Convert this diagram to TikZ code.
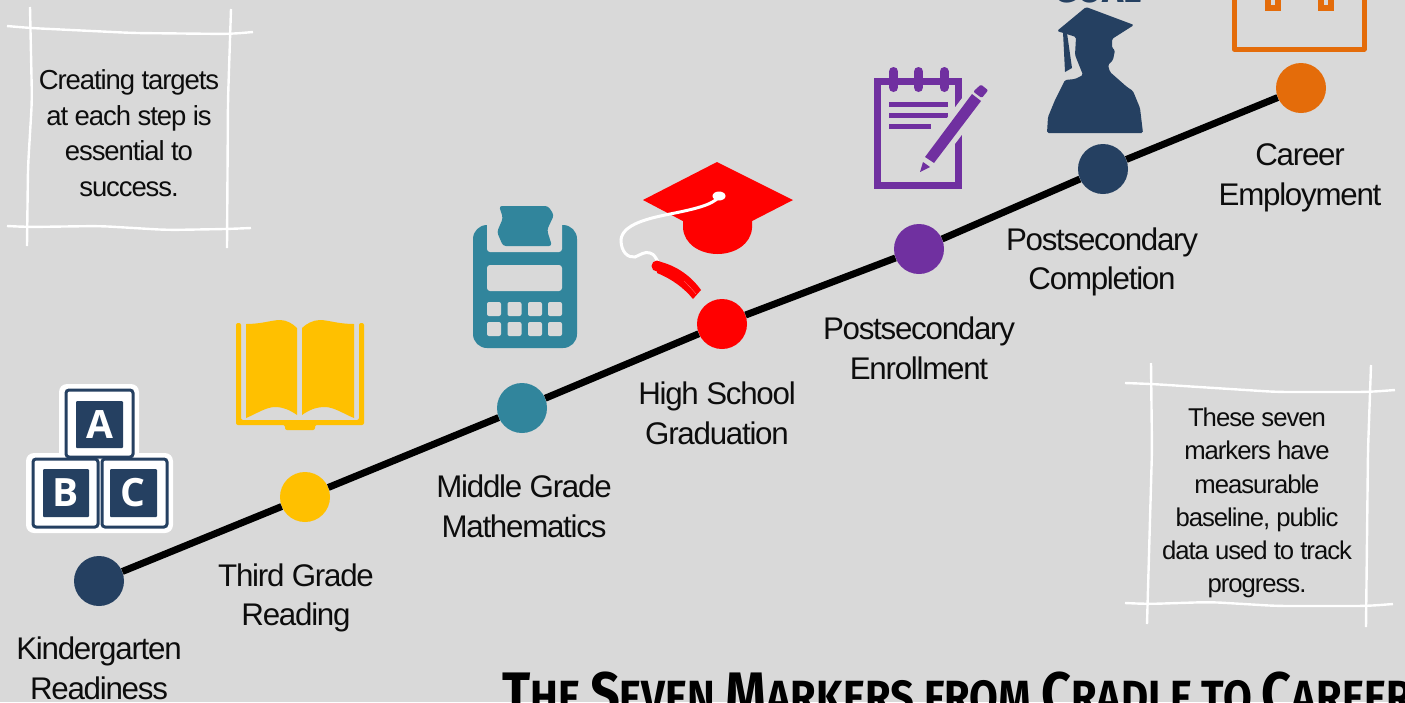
\documentclass[tikz,border=0pt]{standalone}
\usepackage{fontspec}
\setmainfont[LetterSpace=-4]{Liberation Sans}
\newfontfamily\blockfont{Open Sans}
\newfontfamily\goalfont{Fira Sans}
\newfontfamily\titlefont[FakeStretch=0.87]{Fira Sans}
\usetikzlibrary{positioning}
\definecolor{paper}{HTML}{D9D9D9}
\definecolor{navy}{HTML}{254061}
\definecolor{gold}{HTML}{FFC000}
\definecolor{teal}{HTML}{31859C}
\definecolor{violet}{HTML}{7030A0}
\definecolor{ember}{HTML}{E46C0A}
\definecolor{ink}{HTML}{0D0D0D}
\tikzstyle{marker} = [circle, minimum size=50pt, inner sep=0pt]
\tikzstyle{arrow} = [line width=7pt, black]
\tikzstyle{milestone} = [align=center, inner sep=0pt, text=ink, font=\fontsize{31.3}{39.7}\selectfont]
\tikzstyle{note} = [align=center, inner sep=0pt, text=ink]
\tikzstyle{sketch} = [white, line width=2.4pt, rounded corners=12pt]
\tikzstyle{letter} = [text=white, inner sep=0pt, font=\blockfont\bfseries\fontsize{39}{39}\selectfont]
\newcommand{\capword}[2]{{\fontsize{60}{60}\selectfont #1}\MakeUppercase{#2}}
\begin{document}
\begin{tikzpicture}[x=1pt, y=-1pt]
	\useasboundingbox (0,0) rectangle (1405,702);
	\clip (0,0) rectangle (1405,702);
	\fill [paper] (0,0) rectangle (1405,702);
	% timeline
	\node (Kindergarten) [marker, fill=navy] at (99,581) {};
	\node (ThirdGrade) [marker, fill=gold] at (305,497) {};
	\node (MiddleGrade) [marker, fill=teal] at (522,408) {};
	\node (HighSchool) [marker, fill=red] at (722,324) {};
	\node (Enrollment) [marker, fill=violet] at (919,249) {};
	\node (Completion) [marker, fill=navy] at (1103,169) {};
	\node (Career) [marker, fill=ember] at (1301,88) {};
	\draw [arrow] (Kindergarten) -- (ThirdGrade);
	\draw [arrow] (ThirdGrade) -- (MiddleGrade);
	\draw [arrow] (MiddleGrade) -- (HighSchool);
	\draw [arrow] (HighSchool) -- (Enrollment);
	\draw [arrow] (Enrollment) -- (Completion);
	\draw [arrow] (Completion) -- (Career);
	\node (KindergartenText) [milestone] at (99,668.5) {Kindergarten\\Readiness};
	\node (ThirdGradeText) [milestone] at (296,598) {Third Grade\\Reading};
	\node (MiddleGradeText) [milestone] at (524,506.5) {Middle Grade\\Mathematics};
	\node (HighSchoolText) [milestone] at (717,413.5) {High School\\Graduation};
	\node (EnrollmentText) [milestone] at (919,348.5) {Postsecondary\\Enrollment};
	\node (CompletionText) [milestone] at (1102,262) {Postsecondary\\Completion};
	\node (CareerText) [milestone] at (1300,178) {Career\\Employment};
	% hand drawn frames
	\draw [sketch] (7,26) -- (30,28) -- (133,33) -- (230,34) -- (253,32);
	\draw [sketch] (7,226) -- (28,227) -- (100,226) -- (167,230) -- (227,229) -- (251,228);
	\draw [sketch] (30,7) -- (32,100) -- (28,167) -- (27,246);
	\draw [sketch] (231,9) -- (228,100) -- (227,248);
	\draw [sketch] (1125,383) -- (1152,384) -- (1277,392) -- (1368,392) -- (1395,390);
	\draw [sketch] (1125,603) -- (1148,604) -- (1210,602) -- (1277,606) -- (1367,606) -- (1393,604);
	\draw [sketch] (1151,363) -- (1152,450) -- (1147,624);
	\draw [sketch] (1371,365) -- (1368,450) -- (1366,627);
	\node (TargetsNote) [note, font=\fontsize{27.5}{35.5}\selectfont] at (129,133) {Creating targets\\at each step is\\essential to\\success.};
	\node (MarkersNote) [note, font=\fontsize{25.7}{33.3}\selectfont] at (1257,503) {These seven\\markers have\\measurable\\baseline, public\\data used to track\\progress.};
	% blocks
	\fill [white, rounded corners=8pt] (59,384) rectangle (139,460);
	\fill [white, rounded corners=8pt] (26,453) rectangle (173,533);
	\draw [navy, line width=3pt, rounded corners=3pt] (66,390) rectangle (133,457);
	\draw [navy, line width=3pt, rounded corners=3pt] (33,459) rectangle (98,527);
	\draw [navy, line width=3pt, rounded corners=3pt] (102,459) rectangle (167,527);
	\fill [navy, rounded corners=1pt] (76,401) rectangle (123,448);
	\fill [navy, rounded corners=1pt] (43,469) rectangle (89,517);
	\fill [navy, rounded corners=1pt] (110,469) rectangle (157,517);
	\node (BlockA) [letter] at (99.5,425) {A};
	\node (BlockB) [letter] at (66,493) {B};
	\node (BlockC) [letter] at (133,493) {C};
	% book
	\fill [gold, rounded corners=2pt] (236,323) -- (241,323) -- (241,420) -- (359,420) -- (359,323) -- (364,323) -- (364,425) -- (315,425) -- (315,430) -- (285,430) -- (285,425) -- (236,425) -- cycle;
	\fill [gold] (246,324) .. controls (262,324) and (272,320) .. (280,320) .. controls (287,320) and (293,324) .. (297,328) -- (297,415) .. controls (290,410) and (283,407) .. (275,407) .. controls (266,407) and (256,414) .. (246,418) -- cycle;
	\fill [gold] (354,324) .. controls (338,324) and (328,320) .. (320,320) .. controls (313,320) and (306,324) .. (302,328) -- (302,415) .. controls (309,410) and (316,407) .. (325,407) .. controls (334,407) and (344,414) .. (354,418) -- cycle;
	% calculator
	\fill [teal, rounded corners=14pt] (473,225) rectangle (577,348);
	\fill [paper, rounded corners=3pt] (487,215) rectangle (562,252);
	\fill [teal, rounded corners=3pt] (499,206) -- (548,206) -- (554,215) -- (547,230) -- (552,246) -- (503,246) -- (497,232) -- (503,218) -- cycle;
	\fill [paper, rounded corners=3pt] (487,265) rectangle (562,291);
	\foreach \keyx in {487,507.5,528,548}
		\foreach \keyy in {302,322}
			\fill [paper, rounded corners=2pt] (\keyx,\keyy) rectangle +(14,14);
	% cap
	\fill [red] (717,162) -- (793,200) -- (717,239) -- (643,200) -- cycle;
	\fill [red] (683,221) -- (683,228) .. controls (684,244) and (700,254) .. (717.5,254) .. controls (735,254) and (751,244) .. (752,228) -- (752,221) -- cycle;
	\draw [white, line width=3pt] (719,197) .. controls (712,205) and (695,209) .. (670,214) .. controls (650,218) and (622,224) .. (621,240) .. controls (621,252) and (628,258) .. (635,257) .. controls (640,255) and (645,251) .. (650,253) .. controls (654,254) and (656,258) .. (658,262);
	\fill [white] (719,196) ellipse [x radius=6.5pt, y radius=4.5pt];
	\fill [red] (657,266) circle (5.5pt);
	\fill [red] (657,261) .. controls (676,265) and (691,276) .. (701,290) -- (693,299) .. controls (684,288) and (672,279) .. (657,273) -- cycle;
	\draw [red!50!white, line width=0.3pt] (684,281) .. controls (688,285) and (692,289) .. (696,294);
	% notepad
	\draw [violet, line width=6.5pt] (877.5,81.5) rectangle (958.5,185.5);
	\foreach \ringx in {893.5,918.5,944}
		\draw [violet, line width=9pt, line cap=round] (\ringx,71.5) -- (\ringx,87.5);
	\fill [violet] (889,102) rectangle (948,107);
	\fill [violet] (889,113) rectangle (948,118);
	\fill [violet] (889,124) rectangle (931,129);
	\draw [paper, line width=22pt] (985,86) -- (929,160);
	\fill [violet] (972,94) -- (981,101) -- (934,163) -- (925,157) -- cycle;
	\fill [violet] (923,162) -- (930,167) -- (920,172) -- cycle;
	\filldraw [violet, line width=3pt, line join=round] (975.5,91.5) -- (981.5,96) -- (986,90.5) -- (981,86.5) -- cycle;
	% graduate
	\fill [navy, rounded corners=1.5pt] (1057,31) -- (1086,7) -- (1134,25) -- (1112,39) -- (1112,48) -- (1115,50) -- (1113,60) -- (1108,65) -- (1110,72) -- (1127,87) -- (1133,91) -- (1140,108) -- (1143,133) -- (1047,133) -- (1048,117) -- (1055,100) -- (1065,80) -- (1075,79) -- (1083,75) -- (1075,55) -- (1076,37) -- cycle;
	\fill [navy] (1063,32) -- (1067,33) -- (1072,68) -- (1065,72) -- cycle;
	\node (GoalText) [anchor=base, inner sep=0pt, text=navy, font=\goalfont\bfseries\fontsize{36}{36}\selectfont] at (1098,2.5) {GOAL};
	% calendar
	\draw [ember, line width=5pt, line join=round] (1234,-10) -- (1234,49) -- (1364,49) -- (1364,-10);
	\fill [ember] (1265,-5) rectangle (1281,11);
	\fill [ember] (1318,-5) rectangle (1334,11);
	\fill [paper] (1271,-5) rectangle (1275,5);
	\fill [paper] (1324,-5) rectangle (1328,5);
	% title
	\node (Title) [anchor=base west, inner sep=0pt, text=black, font=\titlefont\bfseries\fontsize{48}{48}\selectfont] at (502,714) {\capword{T}{he} \capword{S}{even} \capword{M}{arkers} \MakeUppercase{from} \capword{C}{radle} \MakeUppercase{to} \capword{C}{areer}};
\end{tikzpicture}
\end{document}
